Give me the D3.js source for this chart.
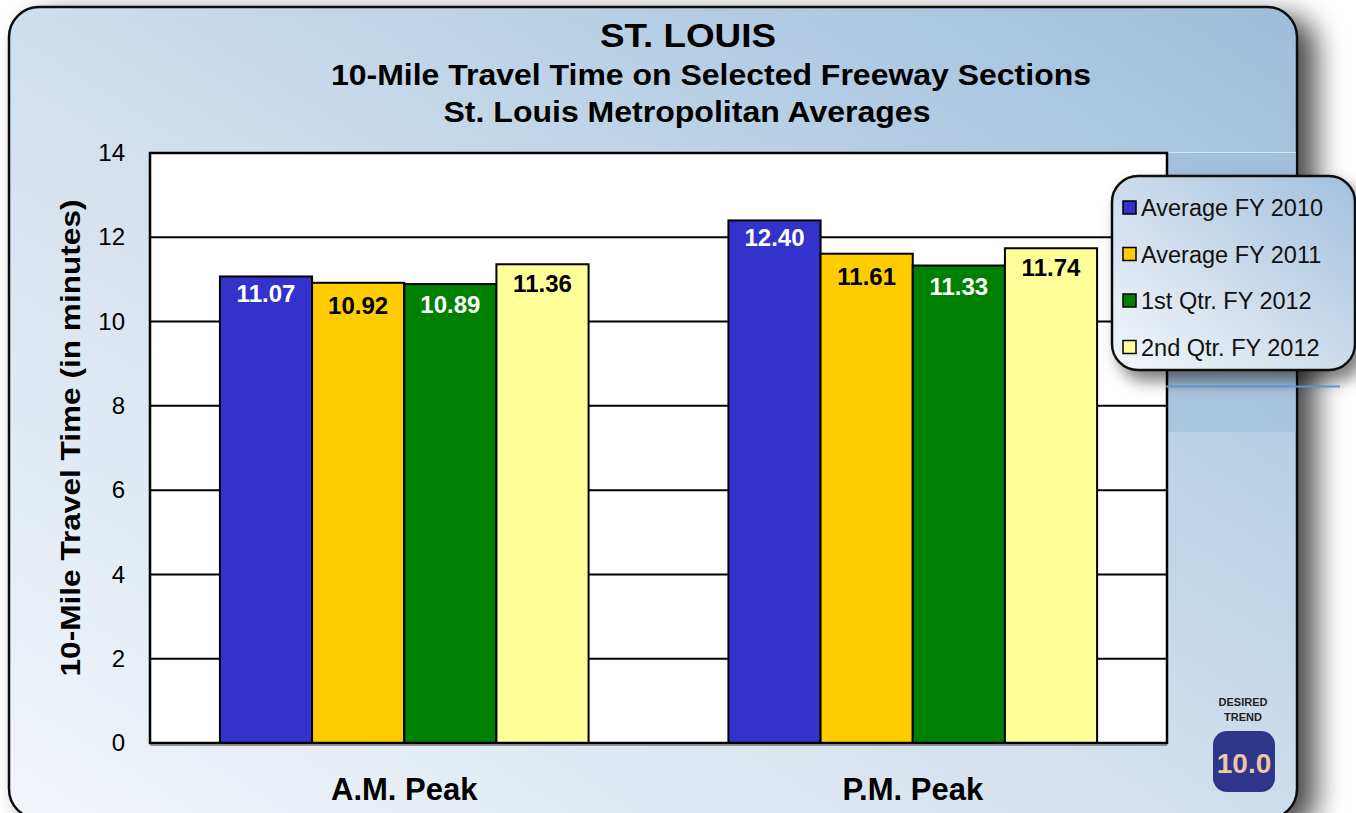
<!DOCTYPE html>
<html>
<head>
<meta charset="utf-8">
<script src="https://cdn.jsdelivr.net/npm/d3@7"></script>
<style>
  body { margin: 0; background: #fff; }
  text { font-family: "Liberation Sans", Arial, sans-serif; }
</style>
</head>
<body>
<svg id="grafico"></svg>
<script>
// dados
var categorias = ['A.M. Peak', 'P.M. Peak'];
var series = ['Average FY 2010', 'Average FY 2011', '1st Qtr. FY 2012', '2nd Qtr. FY 2012'];
var valoresAM = [11.07, 10.92, 10.89, 11.36];
var valoresPM = [12.40, 11.61, 11.33, 11.74];
var ticksY = [0, 2, 4, 6, 8, 10, 12, 14];

var cores = ['#3333cc', '#ffcc00', '#008000', '#ffff99'];
var coresRotulo = ['#fff', '#000', '#fff', '#000'];
var deslocRotulo = [17, 23, 21, 19];

var largura = 1356, altura = 813;
var margem = { esquerda: 150, direita: 189, superior: 153, inferior: 70 };

var svg = d3.select('#grafico').attr('width', largura).attr('height', altura);
var defs = svg.append('defs');

var gradFundo = defs.append('linearGradient').attr('id', 'fundo')
  .attr('x1', '0%').attr('y1', '100%').attr('x2', '100%').attr('y2', '0%');
gradFundo.append('stop').attr('offset', '0%').attr('stop-color', '#f2f5fa');
gradFundo.append('stop').attr('offset', '45%').attr('stop-color', '#d3e1ee');
gradFundo.append('stop').attr('offset', '100%').attr('stop-color', '#9dbddb');

var gradLegenda = defs.append('linearGradient').attr('id', 'fundoLegenda')
  .attr('x1', '0%').attr('y1', '100%').attr('x2', '100%').attr('y2', '0%');
gradLegenda.append('stop').attr('offset', '0%').attr('stop-color', '#f4f7fb');
gradLegenda.append('stop').attr('offset', '100%').attr('stop-color', '#a3c0dc');

var sombra = defs.append('filter').attr('id', 'sombra')
  .attr('x', '-10%').attr('y', '-10%').attr('width', '130%').attr('height', '130%');
sombra.append('feDropShadow').attr('dx', 18).attr('dy', 10).attr('stdDeviation', 14)
  .attr('flood-color', '#000').attr('flood-opacity', 0.7);

var sombraLeg = defs.append('filter').attr('id', 'sombraLeg')
  .attr('x', '-10%').attr('y', '-10%').attr('width', '130%').attr('height', '140%');
sombraLeg.append('feDropShadow').attr('dx', 8).attr('dy', 10).attr('stdDeviation', 8)
  .attr('flood-color', '#000').attr('flood-opacity', 0.5);

// painel de fundo
svg.append('rect')
  .attr('x', 9).attr('y', 7).attr('width', 1288).attr('height', 812)
  .attr('rx', 30).attr('ry', 30)
  .attr('fill', 'url(#fundo)')
  .attr('stroke', '#111').attr('stroke-width', 2.5)
  .attr('filter', 'url(#sombra)');

// faixa escura atras da legenda
svg.append('rect')
  .attr('x', 1168).attr('y', 152).attr('width', 128).attr('height', 280)
  .attr('fill', '#9fbcd8').attr('opacity', 0.6);
svg.append('line')
  .attr('x1', 1168).attr('x2', 1296).attr('y1', 152.5).attr('y2', 152.5)
  .attr('stroke', '#d8e6f2').attr('stroke-width', 1);

// titulos
var titulos = [
  { texto: 'ST. LOUIS', x: 688, y: 47, tam: 33, comp: 176 },
  { texto: '10-Mile Travel Time on Selected Freeway Sections', x: 711, y: 85, tam: 29, comp: 760 },
  { texto: 'St. Louis Metropolitan Averages', x: 687, y: 122, tam: 29, comp: 487 }
];
svg.selectAll('.titulo')
  .data(titulos)
  .enter()
    .append('text')
    .classed('titulo', true)
    .attr('x', d => d.x).attr('y', d => d.y)
    .attr('text-anchor', 'middle')
    .attr('font-family', '"Liberation Sans Narrow", "Arial Narrow", "Liberation Sans", sans-serif')
    .attr('font-weight', 'bold')
    .attr('font-size', d => d.tam)
    .attr('textLength', d => d.comp)
    .attr('lengthAdjust', 'spacingAndGlyphs')
    .text(d => d.texto);

var larguraPlotagem = largura - margem.esquerda - margem.direita;
var alturaPlotagem = altura - margem.superior - margem.inferior;

var plotagem = svg.append('g')
  .attr('transform', 'translate(' + margem.esquerda + ',' + margem.superior + ')');

plotagem.append('rect')
  .attr('width', larguraPlotagem).attr('height', alturaPlotagem)
  .attr('fill', '#fff');

var x0 = d3.scaleBand().domain(categorias).range([0, larguraPlotagem])
  .paddingInner(0.275).paddingOuter(0.1375);
var x1 = d3.scaleBand().domain(series).range([0, x0.bandwidth()]);
var y = d3.scaleLinear().domain([0, 14]).range([alturaPlotagem, 0]);

// linhas de grade
plotagem.selectAll('.grade')
  .data(ticksY.slice(1, -1))
  .enter()
    .append('line')
    .attr('x1', 0).attr('x2', larguraPlotagem)
    .attr('y1', d => y(d)).attr('y2', d => y(d))
    .attr('stroke', '#000').attr('stroke-width', 2);

var dados = categorias.map((c, i) => ({
  categoria: c,
  valores: (i === 0 ? valoresAM : valoresPM).map((v, j) => ({ serie: series[j], valor: v, idx: j }))
}));

var grupos = plotagem.selectAll('.grupo')
  .data(dados)
  .enter()
    .append('g')
    .attr('transform', d => 'translate(' + x0(d.categoria) + ',0)');

grupos.selectAll('.barra')
  .data(d => d.valores)
  .enter()
    .append('rect')
    .classed('barra', true)
    .attr('x', d => x1(d.serie))
    .attr('y', d => y(d.valor))
    .attr('width', x1.bandwidth())
    .attr('height', d => alturaPlotagem - y(d.valor))
    .attr('fill', d => cores[d.idx])
    .attr('stroke', '#000').attr('stroke-width', 2);

grupos.selectAll('.rotulo')
  .data(d => d.valores)
  .enter()
    .append('text')
    .classed('rotulo', true)
    .attr('x', d => x1(d.serie) + x1.bandwidth() / 2)
    .attr('y', d => y(d.valor) + deslocRotulo[d.idx])
    .attr('dy', '0.35em')
    .attr('text-anchor', 'middle')
    .attr('font-weight', 'bold')
    .attr('font-size', 24)
    .attr('fill', d => coresRotulo[d.idx])
    .text(d => d.valor.toFixed(2));

// borda da plotagem
plotagem.append('rect')
  .attr('width', larguraPlotagem).attr('height', alturaPlotagem)
  .attr('fill', 'none').attr('stroke', '#000').attr('stroke-width', 2.5);
plotagem.append('line')
  .attr('x1', 0).attr('x2', larguraPlotagem)
  .attr('y1', alturaPlotagem + 2).attr('y2', alturaPlotagem + 2)
  .attr('stroke', '#777').attr('stroke-width', 1.5);

// eixo y
var eixoY = plotagem.append('g')
  .call(d3.axisLeft(y).tickValues(ticksY).tickSize(0).tickPadding(25));
eixoY.select('.domain').remove();
eixoY.selectAll('text')
  .attr('font-size', 24).attr('fill', '#000')
  .attr('font-family', '"Liberation Sans", Arial, sans-serif');

// eixo x
var eixoX = plotagem.append('g')
  .attr('transform', 'translate(0,' + alturaPlotagem + ')')
  .call(d3.axisBottom(x0).tickSize(0).tickPadding(35));
eixoX.select('.domain').remove();
eixoX.selectAll('text')
  .attr('font-size', 31).attr('font-weight', 'bold').attr('fill', '#000')
  .attr('font-family', '"Liberation Sans", Arial, sans-serif');

// titulo do eixo y
svg.append('text')
  .attr('transform', 'translate(80,438) rotate(-90)')
  .attr('text-anchor', 'middle')
  .attr('font-weight', 'bold')
  .attr('font-size', 28)
  .attr('textLength', 477)
  .attr('lengthAdjust', 'spacingAndGlyphs')
  .text('10-Mile Travel Time (in minutes)');

// linha azul
svg.append('line')
  .attr('x1', 1122).attr('x2', 1163).attr('y1', 386.5).attr('y2', 386.5)
  .attr('stroke', '#fff').attr('stroke-width', 2);
svg.append('line')
  .attr('x1', 1166).attr('x2', 1340).attr('y1', 386.5).attr('y2', 386.5)
  .attr('stroke', '#6aaaf2').attr('stroke-width', 2);

// legenda
var legenda = svg.append('g');
legenda.append('rect')
  .attr('x', 1112).attr('y', 176).attr('width', 243).attr('height', 194)
  .attr('rx', 26).attr('ry', 26)
  .attr('fill', 'url(#fundoLegenda)')
  .attr('stroke', '#111').attr('stroke-width', 2.5)
  .attr('filter', 'url(#sombraLeg)');

var itens = legenda.selectAll('.item')
  .data(series)
  .enter()
    .append('g')
    .attr('transform', (d, i) => 'translate(1123,' + (208 + i * 46.5) + ')');
itens.append('rect')
  .attr('x', 0).attr('y', -7).attr('width', 13).attr('height', 13)
  .attr('fill', (d, i) => cores[i])
  .attr('stroke', '#000').attr('stroke-width', 1.5);
itens.append('text')
  .attr('x', 18).attr('y', 0).attr('dy', '0.35em')
  .attr('font-size', 23.5).attr('fill', '#111')
  .text(d => d);

// tendencia desejada
svg.append('text')
  .attr('x', 1243).attr('y', 706).attr('text-anchor', 'middle')
  .attr('font-size', 11).attr('font-weight', 'bold').attr('fill', '#222')
  .text('DESIRED');
svg.append('text')
  .attr('x', 1243).attr('y', 721).attr('text-anchor', 'middle')
  .attr('font-size', 11).attr('font-weight', 'bold').attr('fill', '#222')
  .text('TREND');
svg.append('rect')
  .attr('x', 1213).attr('y', 731).attr('width', 62).attr('height', 61)
  .attr('rx', 14).attr('ry', 14)
  .attr('fill', '#2e368c');
svg.append('text')
  .attr('x', 1244).attr('y', 773).attr('text-anchor', 'middle')
  .attr('font-size', 28).attr('font-weight', 'bold').attr('fill', '#eec7a6')
  .text('10.0');
</script>
</body>
</html>
